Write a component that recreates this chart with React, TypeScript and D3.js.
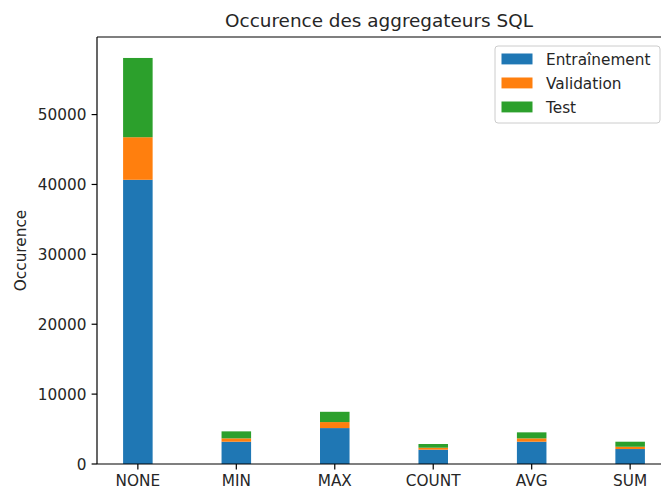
import React from "react";
import * as d3 from "d3";

const categories = ["NONE", "MIN", "MAX", "COUNT", "AVG", "SUM"];
const trainValues = [40670, 3190, 5140, 2050, 3190, 2140];
const valValues = [6090, 480, 860, 280, 480, 330];
const testValues = [11340, 1000, 1470, 530, 860, 720];
const seriesNames = ["Entraînement", "Validation", "Test"];
const seriesColors = ["#1f77b4", "#ff7f0e", "#2ca02c"];
const yTicks = [0, 10000, 20000, 30000, 40000, 50000];

const W = 661;
const H = 493;
const left = 97;
const right = 671;
const top = 37;
const bottom = 464;
const barWidth = 0.3;
const font = "'DejaVu Sans', sans-serif";
const fs = 15.3;

export default function App() {
  const x = d3.scaleLinear().domain([-0.415, 5.415]).range([left, right]);
  const y = d3.scaleLinear().domain([0, 61100]).range([bottom, top]);
  const rows = categories.map((c, i) => ({
    cat: c,
    Entraînement: trainValues[i],
    Validation: valValues[i],
    Test: testValues[i],
    i,
  }));
  const stack = d3.stack<any>().keys(seriesNames)(rows);
  const bw = x(barWidth) - x(0);

  return (
    <svg
      width={W}
      height={H}
      style={{ position: "absolute", left: 0, top: 0, background: "#fff" }}
      fontFamily={font}
    >
      <rect x={0} y={0} width={W} height={H} fill="#fff" />
      {stack.map((layer, si) => (
        <g key={si} fill={seriesColors[si]}>
          {layer.map((d, i) => (
            <rect
              key={i}
              x={x(i) - bw / 2}
              y={y(d[1])}
              width={bw}
              height={y(d[0]) - y(d[1])}
            />
          ))}
        </g>
      ))}
      {/* spines */}
      <line x1={left} x2={left} y1={top} y2={bottom} stroke="#000" strokeWidth={1.2} />
      <line x1={left} x2={right} y1={top} y2={top} stroke="#000" strokeWidth={1.2} />
      <line x1={left} x2={right} y1={bottom} y2={bottom} stroke="#000" strokeWidth={1.2} />
      <line x1={right} x2={right} y1={top} y2={bottom} stroke="#000" strokeWidth={1.2} />
      {/* y ticks */}
      {yTicks.map((t) => (
        <g key={t}>
          <line x1={left - 5.4} x2={left} y1={y(t)} y2={y(t)} stroke="#000" strokeWidth={1.2} />
          <text
            x={left - 10.5}
            y={y(t)}
            dy="0.36em"
            textAnchor="end"
            fontSize={fs}
            fill="#262626"
          >
            {t}
          </text>
        </g>
      ))}
      {/* x ticks */}
      {categories.map((c, i) => (
        <g key={c}>
          <line x1={x(i)} x2={x(i)} y1={bottom} y2={bottom + 5.4} stroke="#000" strokeWidth={1.2} />
          <text x={x(i)} y={bottom + 22} textAnchor="middle" fontSize={fs} fill="#262626">
            {c}
          </text>
        </g>
      ))}
      <text
        transform={`translate(26,${(top + bottom) / 2}) rotate(-90)`}
        textAnchor="middle"
        fontSize={fs}
        fill="#262626"
      >
        Occurence
      </text>
      <text x={379} y={27} textAnchor="middle" fontSize={18.4} fill="#262626">
        Occurence des aggregateurs SQL
      </text>
      {/* legend */}
      <rect
        x={495}
        y={46}
        width={165}
        height={77}
        rx={3}
        fill="#fff"
        fillOpacity={0.8}
        stroke="#cccccc"
        strokeWidth={1}
      />
      {seriesNames.map((n, si) => (
        <g key={n}>
          <rect x={501.5} y={53.5 + si * 24} width={31} height={10.9} fill={seriesColors[si]} />
          <text x={546} y={59 + si * 24} dy="0.36em" fontSize={fs} fill="#262626">
            {n}
          </text>
        </g>
      ))}
    </svg>
  );
}
